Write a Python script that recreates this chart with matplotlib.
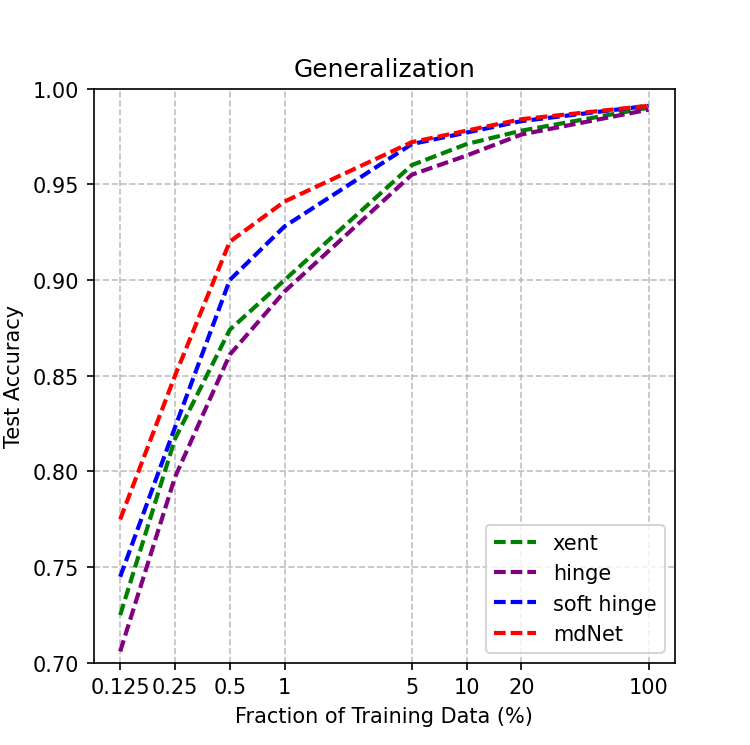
import matplotlib
matplotlib.use("Agg")
import matplotlib.pyplot as plt
from matplotlib.ticker import FixedLocator, FixedFormatter, NullLocator

# Fraction of training data used (%)
fractions = [0.125, 0.25, 0.5, 1, 5, 10, 20, 100]
tick_labels = ["0.125", "0.25", "0.5", "1", "5", "10", "20", "100"]

# Test accuracy for each loss
xent = [0.725, 0.817, 0.874, 0.900, 0.960, 0.971, 0.978, 0.990]
hinge = [0.706, 0.797, 0.861, 0.894, 0.955, 0.965, 0.976, 0.989]
soft_hinge = [0.745, 0.823, 0.900, 0.928, 0.971, 0.977, 0.983, 0.991]
mdnet = [0.775, 0.850, 0.920, 0.941, 0.972, 0.978, 0.984, 0.991]

fig, ax = plt.subplots(figsize=(5, 4.973), dpi=150)

# thicker lines but same absolute dash length as the default style
style = dict(linestyle="--", linewidth=2, dashes=(2.8, 1.2))
ax.plot(fractions, xent, color="green", label="xent", **style)
ax.plot(fractions, hinge, color="purple", label="hinge", **style)
ax.plot(fractions, soft_hinge, color="blue", label="soft hinge", **style)
ax.plot(fractions, mdnet, color="red", label="mdNet", **style)

ax.set_xscale("log")
ax.xaxis.set_major_locator(FixedLocator(fractions))
ax.xaxis.set_major_formatter(FixedFormatter(tick_labels))
ax.xaxis.set_minor_locator(NullLocator())

ax.set_ylim(0.70, 1.00)
ax.set_yticks([0.70, 0.75, 0.80, 0.85, 0.90, 0.95, 1.00])
ax.set_yticklabels(["0.70", "0.75", "0.80", "0.85", "0.90", "0.95", "1.00"])

ax.grid(True, color="#b0b0b0", linestyle="--", linewidth=0.8, alpha=0.8)

ax.set_title("Generalization")
ax.set_xlabel("Fraction of Training Data (%)")
ax.set_ylabel("Test Accuracy")
ax.legend(loc="lower right")

plt.savefig("out.png", dpi=150)
